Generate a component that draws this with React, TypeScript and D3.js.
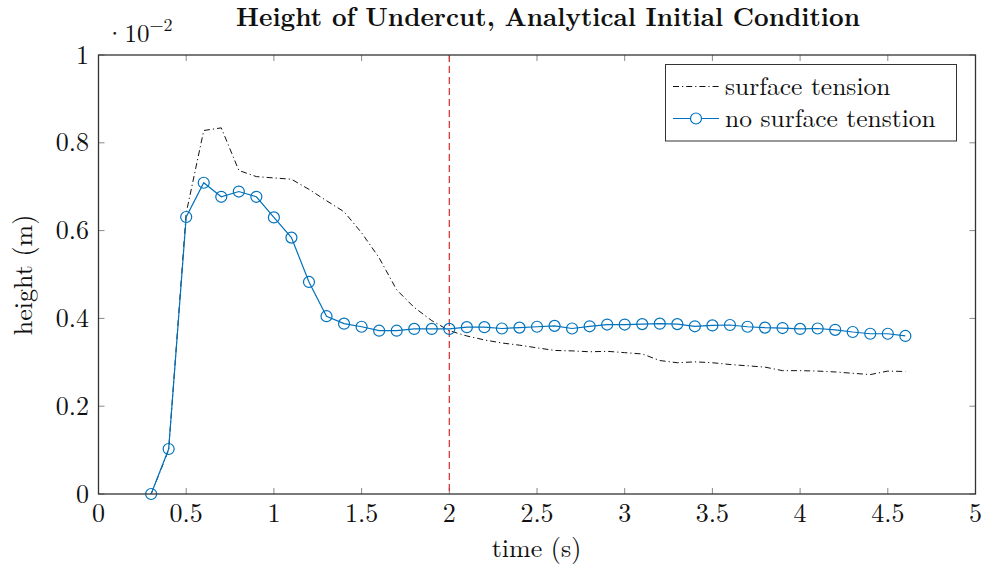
import React from "react";
import * as d3 from "d3";

const timesTension = [0.3,0.4,0.5,0.6,0.7,0.8,0.9,1.0,1.1,1.2,1.3,1.4,1.5,1.6,1.7,1.8,1.9,2.0,2.1,2.2,2.3,2.4,2.5,2.6,2.7,2.8,2.9,3.0,3.1,3.2,3.3,3.4,3.5,3.6,3.7,3.8,3.9,4.0,4.1,4.2,4.3,4.4,4.5,4.6];
const heightTension = [0,0.1,0.64,0.828,0.834,0.737,0.723,0.72,0.717,0.694,0.668,0.643,0.595,0.538,0.465,0.425,0.395,0.372,0.36,0.351,0.344,0.339,0.333,0.327,0.326,0.324,0.325,0.322,0.319,0.304,0.299,0.301,0.299,0.295,0.292,0.289,0.281,0.281,0.28,0.278,0.275,0.272,0.28,0.279];

const timesNoTension = [0.3,0.4,0.5,0.6,0.7,0.8,0.9,1.0,1.1,1.2,1.3,1.4,1.5,1.6,1.7,1.8,1.9,2.0,2.1,2.2,2.3,2.4,2.5,2.6,2.7,2.8,2.9,3.0,3.1,3.2,3.3,3.4,3.5,3.6,3.7,3.8,3.9,4.0,4.1,4.2,4.3,4.4,4.5,4.6];
const heightNoTension = [0,0.1025,0.631,0.709,0.677,0.689,0.677,0.63,0.584,0.483,0.405,0.388,0.381,0.372,0.372,0.376,0.376,0.376,0.38,0.38,0.377,0.379,0.381,0.383,0.377,0.382,0.386,0.386,0.387,0.388,0.387,0.382,0.384,0.385,0.381,0.379,0.378,0.376,0.377,0.374,0.369,0.365,0.365,0.36];

const xTicks = [0,0.5,1,1.5,2,2.5,3,3.5,4,4.5,5];
const xTickLabels = ["0","0.5","1","1.5","2","2.5","3","3.5","4","4.5","5"];
const yTicks = [0,0.2,0.4,0.6,0.8,1];
const yTickLabels = ["0","0.2","0.4","0.6","0.8","1"];
const markerLine = 2;
const seriesNames = ["surface tension", "no surface tenstion"];
const titleText = "Height of Undercut, Analytical Initial Condition";
const xLabel = "time (s)";
const yLabel = "height (m)";

const FONT = "'Latin Modern Roman','CMU Serif','Liberation Serif',serif";

export default function App() {
  const left = 98.5, right = 975.5, top = 55, bottom = 494;
  const x = d3.scaleLinear().domain([0, 5]).range([left, right]);
  const y = d3.scaleLinear().domain([0, 1]).range([bottom, top]);
  const blue = "#0072BD";

  const tension = timesTension.map((t, i) => [t, heightTension[i]] as [number, number]);
  const noTension = timesNoTension.map((t, i) => [t, heightNoTension[i]] as [number, number]);
  const line = d3.line<[number, number]>().x(d => x(d[0])).y(d => y(d[1]));

  const legX = 665.5, legY = 64.5, legW = 291, legH = 76.5;
  const row1 = 86.5, row2 = 118.5;

  return (
    <svg width={984} height={567} style={{ position: "absolute", left: 0, top: 0, background: "#fff" }} fontFamily={FONT}>
      <rect x={0} y={0} width={984} height={567} fill="#fff" />
      {xTicks.map((t, i) => (
        <g key={"xt" + i}>
          <line x1={x(t)} x2={x(t)} y1={bottom} y2={bottom - 6} stroke="#888" strokeWidth={1} />
          <line x1={x(t)} x2={x(t)} y1={top} y2={top + 6} stroke="#888" strokeWidth={1} />
          <text x={x(t)} y={522} textAnchor="middle" fontSize={26} fill="#111">{xTickLabels[i]}</text>
        </g>
      ))}
      {yTicks.map((t, i) => (
        <g key={"yt" + i}>
          <line x1={left} x2={left + 6} y1={y(t)} y2={y(t)} stroke="#888" strokeWidth={1} />
          <line x1={right} x2={right - 6} y1={y(t)} y2={y(t)} stroke="#888" strokeWidth={1} />
          <text x={89} y={y(t) + 8.5} textAnchor="end" fontSize={26} fill="#111">{yTickLabels[i]}</text>
        </g>
      ))}
      <line x1={x(markerLine)} x2={x(markerLine)} y1={top} y2={bottom} stroke="#d42a2a" strokeWidth={1.2} strokeDasharray="7,4" />
      <path d={line(tension) || ""} fill="none" stroke="#111" strokeWidth={1} strokeDasharray="6,3,1.2,3" />
      <path d={line(noTension) || ""} fill="none" stroke={blue} strokeWidth={1.2} />
      {noTension.map((d, i) => (
        <circle key={"c" + i} cx={x(d[0])} cy={y(d[1])} r={5.5} fill="none" stroke={blue} strokeWidth={1.2} />
      ))}
      <rect x={left} y={top} width={right - left} height={bottom - top} fill="none" stroke="#333" strokeWidth={1.3} />
      <rect x={legX} y={legY} width={legW} height={legH} fill="#fff" stroke="#333" strokeWidth={1} />
      <line x1={673} x2={719} y1={row1} y2={row1} stroke="#111" strokeWidth={1} strokeDasharray="6,3,1.2,3" />
      <text x={725} y={row1 + 8} fontSize={25.5} fill="#111">{seriesNames[0]}</text>
      <line x1={673} x2={719} y1={row2} y2={row2} stroke={blue} strokeWidth={1.2} />
      <circle cx={696} cy={row2} r={5.5} fill="#fff" stroke={blue} strokeWidth={1.2} />
      <text x={725} y={row2 + 8} fontSize={25.5} fill="#111">{seriesNames[1]}</text>
      <text x={548} y={26} textAnchor="middle" fontSize={25.5} fontWeight="bold" fill="#111">{titleText}</text>
      <text x={536.5} y={556.5} textAnchor="middle" fontSize={26} fill="#111">{xLabel}</text>
      <text transform="translate(32,275) rotate(-90)" textAnchor="middle" fontSize={26} fill="#111">{yLabel}</text>
      <text x={105} y={42} fontSize={25} fill="#111">
        ·10<tspan dy={-11} fontSize={18}>−2</tspan>
      </text>
    </svg>
  );
}
